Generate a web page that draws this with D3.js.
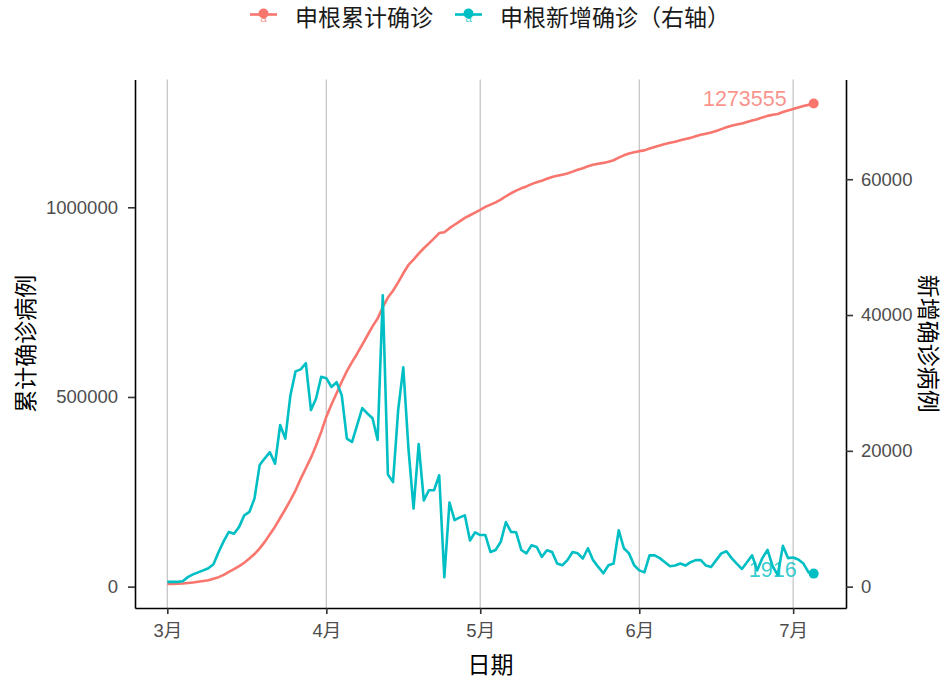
<!DOCTYPE html>
<html><head><meta charset="utf-8">
<script src="https://cdn.jsdelivr.net/npm/d3@7"></script>
<style>
html,body{margin:0;padding:0;background:#fff;}
svg{display:block;}
</style></head>
<body><svg id="chart" width="947" height="680"></svg>
<script>
// ---- data ----
const startDate = Date.UTC(2022, 2, 1);
const endDate = Date.UTC(2022, 6, 6); // exclusive -> last day 7/5
const seriesNames = ["申根累计确诊", "申根新增确诊（右轴）"];
const cumulative = [
  7000, 7300, 7700, 8300, 9500, 11000, 13000, 15000, 17000, 21000,
  25000, 31000, 39000, 46000, 54000, 63000, 74000, 86000, 101000, 118000,
  138000, 158000, 181000, 204000, 228000, 254000, 284000, 312000, 340000, 372000,
  408000, 448000, 480000, 510000, 540000, 568000, 592000, 614000, 638000, 662000,
  686000, 707000, 737000, 762000, 780000, 802000, 826000, 848000, 862000, 878000,
  892000, 905000, 918000, 932000, 934000, 945000, 954000, 963000, 972000, 979000,
  986000, 993000, 1001000, 1007000, 1013000, 1020000, 1029000, 1037000, 1044000, 1050000,
  1055000, 1061000, 1066000, 1070000, 1075000, 1080000, 1083000, 1086000, 1089000, 1094000,
  1099000, 1103000, 1108000, 1112000, 1115000, 1117000, 1120000, 1124000, 1131000, 1137000,
  1142000, 1145000, 1148000, 1150000, 1155000, 1159000, 1163000, 1167000, 1170000, 1173000,
  1177000, 1180000, 1183000, 1187000, 1191000, 1194000, 1197000, 1201000, 1206000, 1211000,
  1215000, 1218000, 1221000, 1225000, 1229000, 1232000, 1237000, 1241000, 1244000, 1246000,
  1251000, 1255000, 1259000, 1263000, 1267000, 1270000, 1273555
];
const newCases = [
  700, 700, 700, 800, 1400, 1800, 2100, 2400, 2700, 3300,
  5100, 6700, 8060, 7800, 8800, 10500, 11000, 13000, 17900, 18900,
  19800, 18100, 23800, 21800, 28200, 31700, 32000, 32900, 26000, 27700,
  30900, 30700, 29400, 30100, 28200, 21800, 21300, 23800, 26300, 25500,
  24800, 21600, 42900, 16500, 15400, 26000, 32300, 20400, 11500, 21000,
  12700, 14200, 14200, 16400, 1400, 12400, 9800, 10200, 10500, 6800,
  8000, 7600, 7600, 5100, 5400, 6600, 9500, 8060, 8000, 5400,
  4900, 6100, 5850, 4380, 5360, 5100, 3400, 3150, 3900, 5100,
  4900, 4140, 5650, 3900, 2900, 1970, 3150, 3400, 8300, 5650,
  4900, 3150, 2400, 2100, 4600, 4600, 4200, 3600, 3000, 3100,
  3400, 3100, 3600, 3900, 3900, 3100, 2900, 3900, 4900, 5200,
  4200, 3400, 2600, 3600, 4600, 2400, 4200, 5400, 3000, 1700,
  6000, 4200, 4300, 4000, 3400, 2100, 1916
];
const leftTicks = [0, 500000, 1000000];
const rightTicks = [0, 20000, 40000, 60000];
const secFactor = 17.9;

// ---- layout ----
const colors = ["#F8766D", "#00BFC4"];
const panel = {left: 135, right: 846, top: 79.5, bottom: 608};
const svg = d3.select("#chart");
const dates = d3.utcDay.range(startDate, endDate);
const rows = dates.map((d, i) => ({date: d, cum: cumulative[i], nw: newCases[i]}));

// ggplot-like 5% expansion
const xExt = d3.extent(dates);
const xSpan = xExt[1] - xExt[0];
const x = d3.scaleUtc()
  .domain([new Date(+xExt[0] - 0.05 * xSpan), new Date(+xExt[1] + 0.05 * xSpan)])
  .range([panel.left, panel.right]);
const yMin = d3.min([d3.min(cumulative), d3.min(newCases) * secFactor]);
const yMax = d3.max([d3.max(cumulative), d3.max(newCases) * secFactor]);
const ySpan = yMax - yMin;
const y = d3.scaleLinear()
  .domain([yMin - 0.05 * ySpan, yMax + 0.05 * ySpan])
  .range([panel.bottom, panel.top]);
const yR = d3.scaleLinear()
  .domain(y.domain().map(v => v / secFactor))
  .range([panel.bottom, panel.top]);

const tickFont = '"Liberation Sans", Arial, "Noto Sans CJK SC", sans-serif';
const cjkFont = '"Noto Sans CJK SC", "Liberation Sans", sans-serif';

// grid (vertical major only)
const monthTicks = x.ticks(d3.utcMonth.every(1));
svg.append("g").selectAll("line").data(monthTicks).join("line")
  .attr("x1", d => x(d)).attr("x2", d => x(d))
  .attr("y1", panel.top).attr("y2", panel.bottom)
  .attr("stroke", "#C6C6C6").attr("stroke-width", 1.3);

// lines
const lineCum = d3.line().x(d => x(d.date)).y(d => y(d.cum));
const lineNew = d3.line().x(d => x(d.date)).y(d => yR(d.nw));
svg.append("path").datum(rows).attr("d", lineCum)
  .attr("fill", "none").attr("stroke", colors[0]).attr("stroke-width", 2.6)
  .attr("stroke-linejoin", "round");
svg.append("path").datum(rows).attr("d", lineNew)
  .attr("fill", "none").attr("stroke", colors[1]).attr("stroke-width", 2.6)
  .attr("stroke-linejoin", "round");

// end points & labels
const last = rows[rows.length - 1];
svg.append("circle").attr("cx", x(last.date)).attr("cy", y(last.cum)).attr("r", 5).attr("fill", colors[0]);
svg.append("circle").attr("cx", x(last.date)).attr("cy", yR(last.nw)).attr("r", 5).attr("fill", colors[1]);
svg.append("text").attr("x", x(last.date) - 27).attr("y", y(last.cum) - 5)
  .attr("text-anchor", "end").attr("dominant-baseline", "central")
  .attr("font-family", tickFont).attr("font-size", 21.5)
  .attr("fill", colors[0]).attr("fill-opacity", 0.8).text(last.cum);
svg.append("text").attr("x", x(last.date) - 17).attr("y", yR(last.nw) - 4)
  .attr("text-anchor", "end").attr("dominant-baseline", "central")
  .attr("font-family", tickFont).attr("font-size", 21.5)
  .attr("fill", colors[1]).attr("fill-opacity", 0.8).text(last.nw);

// axes
function styleAxis(g) {
  g.select(".domain").attr("stroke", "#000").attr("stroke-width", 1.6);
  g.selectAll(".tick line").attr("stroke", "#333").attr("stroke-width", 1.6);
  g.selectAll(".tick text").attr("fill", "#4D4D4D").attr("font-family", tickFont).attr("font-size", 18.5);
}
const xAxis = svg.append("g").attr("transform", `translate(0,${panel.bottom})`)
  .call(d3.axisBottom(x).tickValues(monthTicks).tickFormat(d => d3.utcFormat("%-m")(d) + "月")
    .tickSizeInner(6).tickSizeOuter(0).tickPadding(10));
styleAxis(xAxis);
const yAxisL = svg.append("g").attr("transform", `translate(${panel.left},0)`)
  .call(d3.axisLeft(y).tickValues(leftTicks).tickFormat(d3.format("d"))
    .tickSizeInner(7).tickSizeOuter(0).tickPadding(10));
styleAxis(yAxisL);
const yAxisR = svg.append("g").attr("transform", `translate(${panel.right},0)`)
  .call(d3.axisRight(yR).tickValues(rightTicks).tickFormat(d3.format("d"))
    .tickSizeInner(7).tickSizeOuter(0).tickPadding(8));
styleAxis(yAxisR);

// axis titles
svg.append("text").attr("x", (panel.left + panel.right) / 2).attr("y", 663)
  .attr("text-anchor", "middle").attr("dominant-baseline", "central")
  .attr("font-family", cjkFont).attr("font-size", 23).attr("fill", "#000").text("日期");
svg.append("text").attr("transform", `translate(24,${(panel.top + panel.bottom) / 2}) rotate(-90)`)
  .attr("text-anchor", "middle").attr("dominant-baseline", "central")
  .attr("font-family", cjkFont).attr("font-size", 23).attr("fill", "#000").text("累计确诊病例");
svg.append("text").attr("transform", `translate(930,${(panel.top + panel.bottom) / 2}) rotate(90)`)
  .attr("text-anchor", "middle").attr("dominant-baseline", "central")
  .attr("font-family", cjkFont).attr("font-size", 23).attr("fill", "#000").text("新增确诊病例");

// legend
const legendItems = [
  {name: seriesNames[0], color: colors[0], kx: 250, tx: 295},
  {name: seriesNames[1], color: colors[1], kx: 455, tx: 500}
];
const lg = svg.append("g");
legendItems.forEach(it => {
  lg.append("line").attr("x1", it.kx).attr("x2", it.kx + 27).attr("y1", 14.5).attr("y2", 14.5)
    .attr("stroke", it.color).attr("stroke-width", 2.6);
  lg.append("circle").attr("cx", it.kx + 13.5).attr("cy", 13.5).attr("r", 5).attr("fill", it.color);
  lg.append("text").attr("x", it.kx + 13.5).attr("y", 22).attr("text-anchor", "middle")
    .attr("font-family", tickFont).attr("font-size", 12).attr("fill", it.color).attr("fill-opacity", 0.75).text("a");
  lg.append("text").attr("x", it.tx).attr("y", 16).attr("dominant-baseline", "central")
    .attr("font-family", cjkFont).attr("font-size", 23).attr("fill", "#1a1a1a").text(it.name);
});
</script></body></html>
